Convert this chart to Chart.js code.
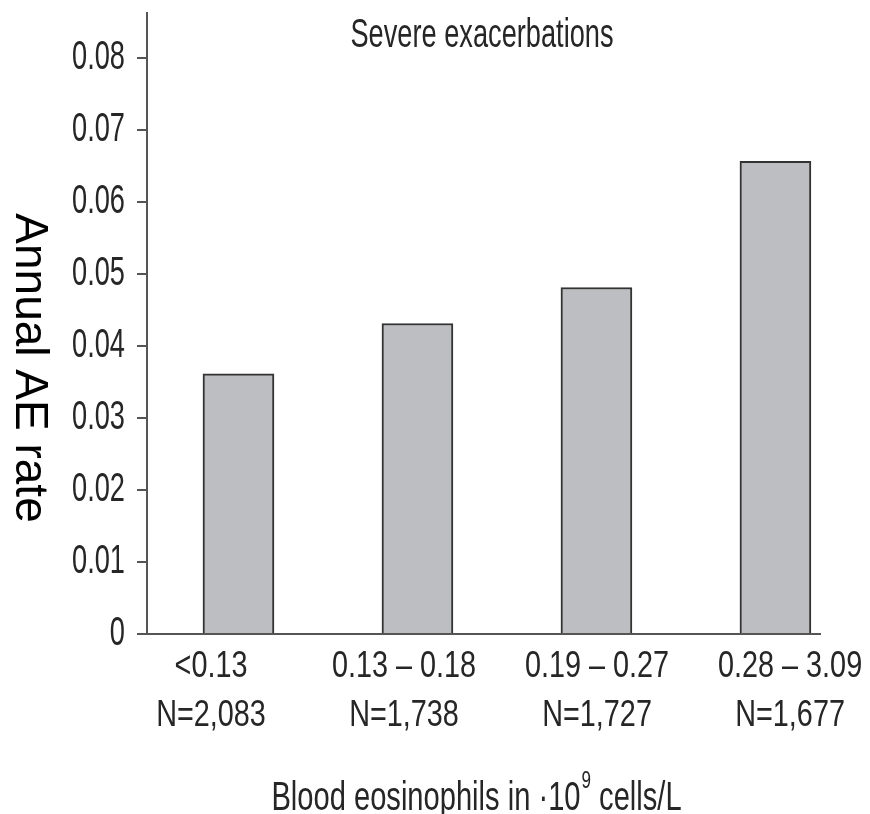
<!DOCTYPE html>
<html>
<head>
<meta charset="utf-8">
<script src="https://cdn.jsdelivr.net/npm/chart.js@4.4.1/dist/chart.umd.min.js"></script>
<style>
  html, body { margin: 0; padding: 0; background: #ffffff; }
  #wrap { width: 870px; height: 814px; }
</style>
</head>
<body>
<div id="wrap"><canvas id="c" width="870" height="814"></canvas></div>
<script>
// ---- data ----
const categories = ['<0.13', '0.13 \u2013 0.18', '0.19 \u2013 0.27', '0.28 \u2013 3.09'];
const counts = ['N=2,083', 'N=1,738', 'N=1,727', 'N=1,677'];
const aeRates = [0.0361, 0.0431, 0.0481, 0.0656];
const yTickValues = [0, 0.01, 0.02, 0.03, 0.04, 0.05, 0.06, 0.07, 0.08];
const chartTitle = 'Severe exacerbations';
const yTitle = 'Annual AE rate';
const xTitleParts = ['Blood eosinophils in \u00b710', '9', ' cells/L'];

const FONT = "'Liberation Sans', Arial, sans-serif";
const TEXT = '#262626';
const AXIS = '#555555';

// condensed rendering of the Helvetica-Condensed-like text: horizontal squeeze per font size
const squeezeBySize = { 40: 0.68, 36: 0.80, 41: 0.71, 24: 0.71 };
const canvas = document.getElementById('c');
const ctx0 = canvas.getContext('2d');
const origFill = ctx0.fillText.bind(ctx0);
ctx0.fillText = function (text, x, y, maxW) {
  const m = /(\d+(?:\.\d+)?)px/.exec(this.font);
  const size = m ? Math.round(parseFloat(m[1])) : 0;
  const k = squeezeBySize[size] || 1;
  if (k === 1) return maxW === undefined ? origFill(text, x, y) : origFill(text, x, y, maxW);
  this.save();
  this.translate(x, y);
  this.scale(k, 1);
  origFill(text, 0, 0);
  this.restore();
};
function squeezeOf(font) {
  const m = /(\d+(?:\.\d+)?)px/.exec(font);
  return squeezeBySize[m ? Math.round(parseFloat(m[1])) : 0] || 1;
}

const textPlugin = {
  id: 'texts',
  afterDraw(chart) {
    const ctx = chart.ctx;
    ctx.save();
    ctx.fillStyle = TEXT;
    // chart title
    ctx.font = '40px ' + FONT;
    ctx.textAlign = 'center';
    ctx.textBaseline = 'alphabetic';
    ctx.fillText(chartTitle, 482, 47);
    // y title, rotated clockwise
    ctx.save();
    ctx.translate(29, 368);
    ctx.rotate(Math.PI / 2);
    ctx.font = '46px ' + FONT;
    ctx.fillStyle = '#000000';
    ctx.textAlign = 'center';
    ctx.textBaseline = 'middle';
    ctx.fillText(yTitle, 0, 0);
    ctx.restore();
    // x title with superscript
    const big = '41px ' + FONT, small = '24px ' + FONT;
    ctx.font = big;
    const w1 = ctx.measureText(xTitleParts[0]).width * squeezeOf(big);
    const w3 = ctx.measureText(xTitleParts[2]).width * squeezeOf(big);
    ctx.font = small;
    const w2 = ctx.measureText(xTitleParts[1]).width * squeezeOf(small);
    const total = w1 + w2 + w3;
    let x = 476 - total / 2;
    const base = 810;
    ctx.textAlign = 'left';
    ctx.font = big; ctx.fillText(xTitleParts[0], x, base); x += w1;
    ctx.font = small; ctx.fillText(xTitleParts[1], x + 1, base - 22); x += w2 + 1;
    ctx.font = big; ctx.fillText(xTitleParts[2], x, base);
    ctx.restore();
  }
};

new Chart(canvas, {
  type: 'bar',
  data: {
    datasets: [{
      data: aeRates.map((v, i) => ({ x: i, y: v })),
      backgroundColor: '#bdbec1',
      borderColor: '#333333',
      borderWidth: 2,
      borderSkipped: 'start',
      barThickness: 71,
      xAxisID: 'x',
      yAxisID: 'y'
    }]
  },
  options: {
    responsive: false,
    animation: false,
    devicePixelRatio: 1,
    layout: { padding: { left: 0, top: 13, right: 50, bottom: 0 } },
    plugins: { legend: { display: false }, tooltip: { enabled: false }, title: { display: false } },
    scales: {
      x: {
        type: 'linear',
        position: 'bottom',
        offset: false,
        min: -0.511,
        max: 3.249,
        grid: { display: false },
        border: { display: true, color: AXIS, width: 2 },
        ticks: { display: false },
        afterFit(s) { s.height = 0; s.paddingLeft = 0; s.paddingRight = 0; }
      },
      x2: {
        type: 'linear',
        position: 'bottom',
        offset: false,
        min: -0.3316,
        max: 3.155,
        grid: { display: false },
        border: { display: false },
        afterBuildTicks(s) { s.ticks = categories.map((_, i) => ({ value: i })); },
        ticks: {
          autoSkip: false,
          maxRotation: 0,
          minRotation: 0,
          padding: 1,
          color: TEXT,
          font: { family: FONT, size: 36, lineHeight: 1.36 },
          callback: (v) => [categories[v], counts[v]]
        },
        afterFit(s) { s.height = 180; s.paddingLeft = 0; s.paddingRight = 0; }
      },
      y: {
        type: 'linear',
        min: 0,
        max: 0.0862,
        border: { display: true, color: AXIS, width: 2 },
        grid: { display: true, drawOnChartArea: false, drawTicks: true, tickLength: 10, color: AXIS, lineWidth: 2 },
        afterBuildTicks(s) { s.ticks = yTickValues.map(v => ({ value: v })); },
        ticks: {
          padding: 12,
          color: TEXT,
          font: { family: FONT, size: 40 },
          callback: (v) => (v === 0 ? '0' : v.toFixed(2))
        },
        afterFit(s) { s.width = 147; s.paddingTop = 0; s.paddingBottom = 0; }
      }
    }
  },
  plugins: [textPlugin]
});
</script>
</body>
</html>
